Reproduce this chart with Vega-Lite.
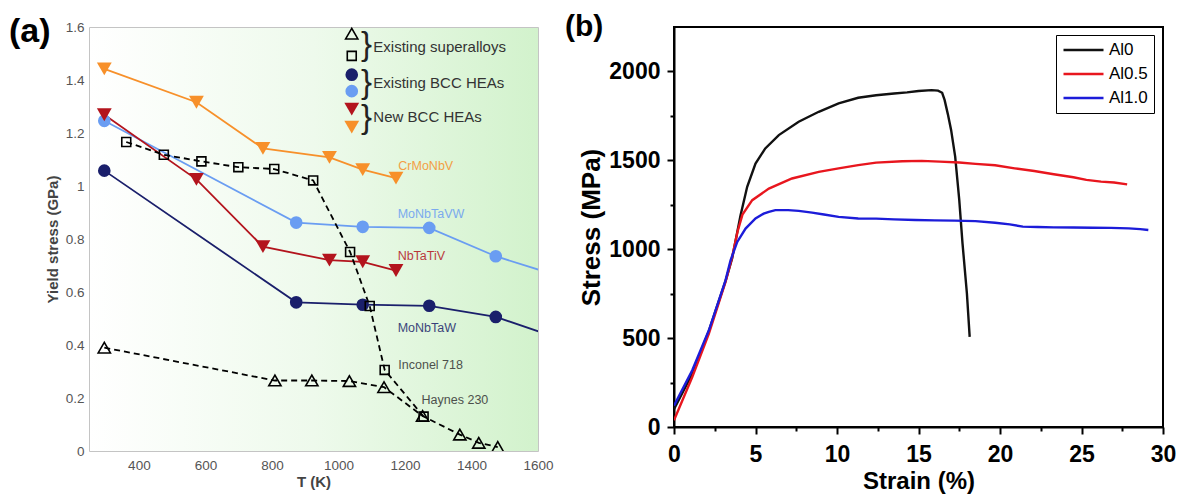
{
  "$schema": "https://vega.github.io/schema/vega-lite/v6.json",
  "padding": {"left": 8, "top": 11, "right": 4, "bottom": 4},
  "spacing": 10,
  "resolve": {"scale": {"color": "independent"}},
  "config": {"font": "Liberation Sans", "view": {"stroke": null}},
  "datasets": {
    "alloys": [
      {"series": "Haynes 230", "T": 296, "ys": 0.39},
      {"series": "Haynes 230", "T": 809, "ys": 0.266},
      {"series": "Haynes 230", "T": 920, "ys": 0.266},
      {"series": "Haynes 230", "T": 1033, "ys": 0.264},
      {"series": "Haynes 230", "T": 1137, "ys": 0.241},
      {"series": "Haynes 230", "T": 1253, "ys": 0.132},
      {"series": "Haynes 230", "T": 1365, "ys": 0.062},
      {"series": "Haynes 230", "T": 1422, "ys": 0.031},
      {"series": "Haynes 230", "T": 1479, "ys": 0.015},
      {"series": "Inconel 718", "T": 362, "ys": 1.166},
      {"series": "Inconel 718", "T": 475, "ys": 1.118},
      {"series": "Inconel 718", "T": 588, "ys": 1.093},
      {"series": "Inconel 718", "T": 699, "ys": 1.071},
      {"series": "Inconel 718", "T": 807, "ys": 1.064},
      {"series": "Inconel 718", "T": 924, "ys": 1.021},
      {"series": "Inconel 718", "T": 1035, "ys": 0.751},
      {"series": "Inconel 718", "T": 1094, "ys": 0.547},
      {"series": "Inconel 718", "T": 1139, "ys": 0.306},
      {"series": "Inconel 718", "T": 1256, "ys": 0.13},
      {"series": "MoNbTaW", "T": 296, "ys": 1.058},
      {"series": "MoNbTaW", "T": 873, "ys": 0.561},
      {"series": "MoNbTaW", "T": 1073, "ys": 0.552},
      {"series": "MoNbTaW", "T": 1273, "ys": 0.548},
      {"series": "MoNbTaW", "T": 1473, "ys": 0.506},
      {"series": "MoNbTaW", "T": 1673, "ys": 0.421},
      {"series": "MoNbTaW", "T": 1873, "ys": 0.405},
      {"series": "MoNbTaVW", "T": 296, "ys": 1.246},
      {"series": "MoNbTaVW", "T": 873, "ys": 0.862},
      {"series": "MoNbTaVW", "T": 1073, "ys": 0.846},
      {"series": "MoNbTaVW", "T": 1273, "ys": 0.842},
      {"series": "MoNbTaVW", "T": 1473, "ys": 0.735},
      {"series": "MoNbTaVW", "T": 1673, "ys": 0.656},
      {"series": "MoNbTaVW", "T": 1873, "ys": 0.477},
      {"series": "NbTaTiV", "T": 296, "ys": 1.269},
      {"series": "NbTaTiV", "T": 573, "ys": 1.025},
      {"series": "NbTaTiV", "T": 773, "ys": 0.771},
      {"series": "NbTaTiV", "T": 973, "ys": 0.72},
      {"series": "NbTaTiV", "T": 1073, "ys": 0.714},
      {"series": "NbTaTiV", "T": 1173, "ys": 0.681},
      {"series": "CrMoNbV", "T": 296, "ys": 1.442},
      {"series": "CrMoNbV", "T": 573, "ys": 1.316},
      {"series": "CrMoNbV", "T": 773, "ys": 1.142},
      {"series": "CrMoNbV", "T": 973, "ys": 1.108},
      {"series": "CrMoNbV", "T": 1073, "ys": 1.062},
      {"series": "CrMoNbV", "T": 1173, "ys": 1.03}
    ],
    "legendA": [
      {"series": "Haynes 230", "T": 1040, "ys": 1.575},
      {"series": "Inconel 718", "T": 1040, "ys": 1.491},
      {"series": "MoNbTaW", "T": 1040, "ys": 1.42},
      {"series": "MoNbTaVW", "T": 1040, "ys": 1.358},
      {"series": "NbTaTiV", "T": 1040, "ys": 1.29},
      {"series": "CrMoNbV", "T": 1040, "ys": 1.222}
    ],
    "bracesA": [
      {"T": 1068, "ys": 1.533},
      {"T": 1068, "ys": 1.389},
      {"T": 1068, "ys": 1.256}
    ],
    "legendTextA": [
      {"txt": "Existing superalloys", "T": 1105, "ys": 1.525},
      {"txt": "Existing BCC HEAs", "T": 1105, "ys": 1.39},
      {"txt": "New BCC HEAs", "T": 1105, "ys": 1.262}
    ],
    "labelsA": [
      {"label": "CrMoNbV", "series": "CrMoNbV", "T": 1180, "ys": 1.077},
      {"label": "MoNbTaVW", "series": "MoNbTaVW", "T": 1178, "ys": 0.895},
      {"label": "NbTaTiV", "series": "NbTaTiV", "T": 1178, "ys": 0.734},
      {"label": "MoNbTaW", "series": "MoNbTaW", "T": 1178, "ys": 0.464},
      {"label": "Inconel 718", "series": "Inconel 718", "T": 1180, "ys": 0.325},
      {"label": "Haynes 230", "series": "Haynes 230", "T": 1250, "ys": 0.194}
    ],
    "curves": [
      {"alloy": "Al0", "strain": 0, "stress": 100},
      {"alloy": "Al0", "strain": 1.12, "stress": 300},
      {"alloy": "Al0", "strain": 2.14, "stress": 540},
      {"alloy": "Al0", "strain": 3.16, "stress": 820},
      {"alloy": "Al0", "strain": 3.57, "stress": 950},
      {"alloy": "Al0", "strain": 3.9, "stress": 1105},
      {"alloy": "Al0", "strain": 4.08, "stress": 1190},
      {"alloy": "Al0", "strain": 4.49, "stress": 1351},
      {"alloy": "Al0", "strain": 5.0, "stress": 1482},
      {"alloy": "Al0", "strain": 5.6, "stress": 1567},
      {"alloy": "Al0", "strain": 6.43, "stress": 1642},
      {"alloy": "Al0", "strain": 7.65, "stress": 1717},
      {"alloy": "Al0", "strain": 8.88, "stress": 1773},
      {"alloy": "Al0", "strain": 10.1, "stress": 1820},
      {"alloy": "Al0", "strain": 11.3, "stress": 1852},
      {"alloy": "Al0", "strain": 12.4, "stress": 1866},
      {"alloy": "Al0", "strain": 13.5, "stress": 1876},
      {"alloy": "Al0", "strain": 14.3, "stress": 1882},
      {"alloy": "Al0", "strain": 15.0, "stress": 1890},
      {"alloy": "Al0", "strain": 15.8, "stress": 1895},
      {"alloy": "Al0", "strain": 16.2, "stress": 1892},
      {"alloy": "Al0", "strain": 16.45, "stress": 1880},
      {"alloy": "Al0", "strain": 16.6, "stress": 1840},
      {"alloy": "Al0", "strain": 16.8, "stress": 1760},
      {"alloy": "Al0", "strain": 17.0, "stress": 1671},
      {"alloy": "Al0", "strain": 17.25, "stress": 1521},
      {"alloy": "Al0", "strain": 17.5, "stress": 1277},
      {"alloy": "Al0", "strain": 17.7, "stress": 1033},
      {"alloy": "Al0", "strain": 17.97, "stress": 751},
      {"alloy": "Al0", "strain": 18.14, "stress": 507},
      {"alloy": "Al0.5", "strain": 0, "stress": 38},
      {"alloy": "Al0.5", "strain": 1.12, "stress": 281},
      {"alloy": "Al0.5", "strain": 2.14, "stress": 525},
      {"alloy": "Al0.5", "strain": 3.16, "stress": 816},
      {"alloy": "Al0.5", "strain": 3.57, "stress": 957},
      {"alloy": "Al0.5", "strain": 3.9, "stress": 1100},
      {"alloy": "Al0.5", "strain": 4.2, "stress": 1195},
      {"alloy": "Al0.5", "strain": 4.8, "stress": 1276},
      {"alloy": "Al0.5", "strain": 5.82, "stress": 1341},
      {"alloy": "Al0.5", "strain": 7.24, "stress": 1398},
      {"alloy": "Al0.5", "strain": 8.88, "stress": 1435},
      {"alloy": "Al0.5", "strain": 10.1, "stress": 1455},
      {"alloy": "Al0.5", "strain": 11.3, "stress": 1473},
      {"alloy": "Al0.5", "strain": 12.4, "stress": 1487},
      {"alloy": "Al0.5", "strain": 14.0, "stress": 1495},
      {"alloy": "Al0.5", "strain": 15.2, "stress": 1497},
      {"alloy": "Al0.5", "strain": 16.3, "stress": 1493},
      {"alloy": "Al0.5", "strain": 17.5, "stress": 1488},
      {"alloy": "Al0.5", "strain": 18.5, "stress": 1480},
      {"alloy": "Al0.5", "strain": 19.7, "stress": 1472},
      {"alloy": "Al0.5", "strain": 20.9, "stress": 1455},
      {"alloy": "Al0.5", "strain": 22.1, "stress": 1440},
      {"alloy": "Al0.5", "strain": 23.3, "stress": 1422},
      {"alloy": "Al0.5", "strain": 24.5, "stress": 1405},
      {"alloy": "Al0.5", "strain": 25.3, "stress": 1390},
      {"alloy": "Al0.5", "strain": 26.2, "stress": 1380},
      {"alloy": "Al0.5", "strain": 27.0, "stress": 1375},
      {"alloy": "Al0.5", "strain": 27.8, "stress": 1365},
      {"alloy": "Al1.0", "strain": 0, "stress": 120},
      {"alloy": "Al1.0", "strain": 1.12, "stress": 319},
      {"alloy": "Al1.0", "strain": 2.14, "stress": 544},
      {"alloy": "Al1.0", "strain": 3.16, "stress": 825},
      {"alloy": "Al1.0", "strain": 3.47, "stress": 938},
      {"alloy": "Al1.0", "strain": 3.88, "stress": 1041},
      {"alloy": "Al1.0", "strain": 4.39, "stress": 1116},
      {"alloy": "Al1.0", "strain": 5.0, "stress": 1173},
      {"alloy": "Al1.0", "strain": 5.5, "stress": 1200},
      {"alloy": "Al1.0", "strain": 5.82, "stress": 1210},
      {"alloy": "Al1.0", "strain": 6.22, "stress": 1220},
      {"alloy": "Al1.0", "strain": 7.0, "stress": 1220},
      {"alloy": "Al1.0", "strain": 7.65, "stress": 1216},
      {"alloy": "Al1.0", "strain": 8.47, "stress": 1206},
      {"alloy": "Al1.0", "strain": 9.2, "stress": 1195},
      {"alloy": "Al1.0", "strain": 10.1, "stress": 1182},
      {"alloy": "Al1.0", "strain": 11.3, "stress": 1173},
      {"alloy": "Al1.0", "strain": 12.4, "stress": 1172},
      {"alloy": "Al1.0", "strain": 13.5, "stress": 1168},
      {"alloy": "Al1.0", "strain": 14.8, "stress": 1164},
      {"alloy": "Al1.0", "strain": 16.0, "stress": 1162},
      {"alloy": "Al1.0", "strain": 17.2, "stress": 1161},
      {"alloy": "Al1.0", "strain": 18.5, "stress": 1158},
      {"alloy": "Al1.0", "strain": 19.7, "stress": 1149},
      {"alloy": "Al1.0", "strain": 20.6, "stress": 1140},
      {"alloy": "Al1.0", "strain": 21.4, "stress": 1127},
      {"alloy": "Al1.0", "strain": 22.3, "stress": 1125},
      {"alloy": "Al1.0", "strain": 23.3, "stress": 1123},
      {"alloy": "Al1.0", "strain": 24.5, "stress": 1122},
      {"alloy": "Al1.0", "strain": 25.7, "stress": 1121},
      {"alloy": "Al1.0", "strain": 26.8, "stress": 1120},
      {"alloy": "Al1.0", "strain": 27.9, "stress": 1117},
      {"alloy": "Al1.0", "strain": 28.6, "stress": 1113},
      {"alloy": "Al1.0", "strain": 29.1, "stress": 1108}
    ]
  },
  "hconcat": [
    {
      "width": 449,
      "height": 424,
      "view": {
        "stroke": "#c4c4c4", "strokeWidth": 1,
        "fill": {"gradient": "linear", "x1": 0, "y1": 0, "x2": 1, "y2": 0,
          "stops": [{"offset": 0, "color": "#ffffff"}, {"offset": 0.5, "color": "#eefaec"}, {"offset": 1, "color": "#d2f2cc"}]}
      },
      "title": {"text": "(a)", "anchor": "start", "frame": "group", "orient": "top", "fontSize": 34, "fontWeight": "bold", "offset": -29, "dx": -80, "color": "#000000", "font": "Liberation Sans"},
      "encoding": {
        "x": {
          "field": "T", "type": "quantitative",
          "scale": {"domain": [250, 1600], "nice": false, "zero": false},
          "axis": {
            "values": [400, 600, 800, 1000, 1200, 1400, 1600], "format": "d",
            "title": "T (K)", "grid": false, "ticks": false, "domain": false,
            "labelFlush": false, "labelColor": "#555555", "labelFontSize": 13.5, "labelPadding": 7,
            "titleFontSize": 15, "titleFontWeight": "bold", "titleColor": "#444444", "titlePadding": 3
          }
        },
        "y": {
          "field": "ys", "type": "quantitative",
          "scale": {"domain": [0, 1.6], "nice": false},
          "axis": {
            "values": [0, 0.2, 0.4, 0.6, 0.8, 1, 1.2, 1.4, 1.6], "format": "~g",
            "title": "Yield stress (GPa)", "grid": false, "ticks": false, "domain": false,
            "labelFlush": false, "labelColor": "#555555", "labelFontSize": 13.5, "labelPadding": 5,
            "titleFontSize": 15, "titleFontWeight": "bold", "titleColor": "#444444", "titlePadding": 5
          }
        }
      },
      "layer": [
        {
          "data": {"name": "alloys"},
          "transform": [{"filter": {"field": "series", "oneOf": ["MoNbTaW", "MoNbTaVW", "NbTaTiV", "CrMoNbV"]}}],
          "mark": {"type": "line", "strokeWidth": 1.8, "clip": true},
          "encoding": {
            "color": {"field": "series", "type": "nominal", "legend": null,
              "scale": {"domain": ["Haynes 230", "Inconel 718", "MoNbTaW", "MoNbTaVW", "NbTaTiV", "CrMoNbV"],
                "range": ["#333333", "#333333", "#1a1f6b", "#6a9df2", "#b3141d", "#f7902a"]}}
          }
        },
        {
          "data": {"name": "alloys"},
          "transform": [{"filter": {"field": "series", "oneOf": ["Haynes 230", "Inconel 718"]}}],
          "mark": {"type": "line", "strokeWidth": 1.8, "strokeDash": [6, 4], "color": "#000000", "clip": true},
          "encoding": {"detail": {"field": "series", "type": "nominal"}}
        },
        {
          "data": {"name": "alloys"},
          "transform": [{"filter": {"field": "series", "oneOf": ["MoNbTaW", "MoNbTaVW"]}}],
          "mark": {"type": "point", "shape": "circle", "filled": true, "opacity": 1, "size": 160, "clip": true},
          "encoding": {"color": {"field": "series", "type": "nominal", "legend": null}}
        },
        {
          "data": {"name": "alloys"},
          "transform": [{"filter": {"field": "series", "oneOf": ["NbTaTiV", "CrMoNbV"]}}],
          "mark": {"type": "point", "shape": "triangle-down", "filled": true, "opacity": 1, "size": 220, "clip": true},
          "encoding": {"color": {"field": "series", "type": "nominal", "legend": null}}
        },
        {
          "data": {"name": "alloys"},
          "transform": [{"filter": {"field": "series", "equal": "Haynes 230"}}],
          "mark": {"type": "point", "shape": "triangle-up", "filled": false, "opacity": 1, "size": 150, "strokeWidth": 1.6, "color": "#000000", "clip": true}
        },
        {
          "data": {"name": "alloys"},
          "transform": [{"filter": {"field": "series", "equal": "Inconel 718"}}],
          "mark": {"type": "point", "shape": "square", "filled": false, "opacity": 1, "size": 80, "strokeWidth": 1.6, "color": "#000000", "clip": true}
        },
        {
          "data": {"name": "labelsA"},
          "mark": {"type": "text", "align": "left", "baseline": "middle", "fontSize": 12.5, "opacity": 0.85},
          "encoding": {
            "text": {"field": "label"},
            "color": {"field": "series", "type": "nominal", "legend": null}
          }
        },
        {
          "data": {"name": "legendA"},
          "transform": [{"filter": {"field": "series", "oneOf": ["MoNbTaW", "MoNbTaVW"]}}],
          "mark": {"type": "point", "shape": "circle", "filled": true, "opacity": 1, "size": 160},
          "encoding": {"color": {"field": "series", "type": "nominal", "legend": null}}
        },
        {
          "data": {"name": "legendA"},
          "transform": [{"filter": {"field": "series", "oneOf": ["NbTaTiV", "CrMoNbV"]}}],
          "mark": {"type": "point", "shape": "triangle-down", "filled": true, "opacity": 1, "size": 220},
          "encoding": {"color": {"field": "series", "type": "nominal", "legend": null}}
        },
        {
          "data": {"name": "legendA"},
          "transform": [{"filter": {"field": "series", "equal": "Haynes 230"}}],
          "mark": {"type": "point", "shape": "triangle-up", "filled": false, "opacity": 1, "size": 150, "strokeWidth": 1.6, "color": "#000000"}
        },
        {
          "data": {"name": "legendA"},
          "transform": [{"filter": {"field": "series", "equal": "Inconel 718"}}],
          "mark": {"type": "point", "shape": "square", "filled": false, "opacity": 1, "size": 80, "strokeWidth": 1.6, "color": "#000000"}
        },
        {
          "data": {"name": "bracesA"},
          "mark": {"type": "text", "text": "}", "fontSize": 33, "align": "left", "baseline": "middle", "color": "#222222"}
        },
        {
          "data": {"name": "legendTextA"},
          "mark": {"type": "text", "fontSize": 15, "align": "left", "baseline": "middle", "color": "#333333"},
          "encoding": {"text": {"field": "txt"}}
        }
      ]
    },
    {
      "width": 489,
      "height": 400,
      "view": {"stroke": "#000000", "strokeWidth": 2},
      "title": {"text": "(b)", "anchor": "start", "frame": "group", "orient": "top", "fontSize": 30, "fontWeight": "bold", "offset": -15, "dx": -109, "color": "#000000", "font": "Liberation Sans"},
      "data": {"name": "curves"},
      "resolve": {"axis": {"x": "independent", "y": "independent"}},
      "layer": [
        {
          "mark": {"type": "line", "strokeWidth": 2.4, "clip": true},
          "encoding": {
            "x": {
              "field": "strain", "type": "quantitative",
              "scale": {"domain": [0, 30], "nice": false, "zero": false},
              "axis": {
                "orient": "bottom", "values": [0, 5, 10, 15, 20, 25, 30], "format": "d",
                "title": "Strain (%)", "grid": false, "labelFlush": false,
                "domainColor": "#000000", "domainWidth": 2,
                "tickColor": "#000000", "tickWidth": 2, "tickSize": 7,
                "labelColor": "#000000", "labelFontSize": 23, "labelFontWeight": "bold", "labelPadding": 9,
                "titleFontSize": 24, "titleFontWeight": "bold", "titleColor": "#000000", "titlePadding": 3
              }
            },
            "y": {
              "field": "stress", "type": "quantitative",
              "scale": {"domain": [0, 2250], "nice": false},
              "axis": {
                "orient": "left", "values": [0, 500, 1000, 1500, 2000], "format": "d",
                "title": "Stress (MPa)", "grid": false, "labelFlush": false,
                "domainColor": "#000000", "domainWidth": 2,
                "tickColor": "#000000", "tickWidth": 2, "tickSize": 7,
                "labelColor": "#000000", "labelFontSize": 23, "labelFontWeight": "bold", "labelPadding": 7,
                "titleFontSize": 26, "titleFontWeight": "bold", "titleColor": "#000000", "titlePadding": 4
              }
            },
            "color": {
              "field": "alloy", "type": "nominal",
              "scale": {"domain": ["Al0", "Al0.5", "Al1.0"], "range": ["#111111", "#e8161e", "#1c1cd9"]},
              "legend": {
                "orient": "none", "legendX": 382, "legendY": 8, "title": null,
                "symbolType": "stroke", "symbolSize": 1600, "symbolStrokeWidth": 2.5,
                "clipHeight": 18, "rowPadding": 6, "labelFontSize": 17, "labelColor": "#000000",
                "labelOffset": 4, "padding": 6, "strokeColor": "#000000", "fillColor": "#ffffff"
              }
            }
          }
        },
        {
          "mark": {"type": "line", "opacity": 0},
          "encoding": {
            "x": {
              "field": "strain", "type": "quantitative",
              "axis": {"orient": "bottom", "values": [2.5, 7.5, 12.5, 17.5, 22.5, 27.5], "labels": false, "domain": false,
                "grid": false, "title": null, "tickColor": "#000000", "tickWidth": 2, "tickSize": 4}
            },
            "y": {
              "field": "stress", "type": "quantitative",
              "axis": {"orient": "left", "values": [250, 750, 1250, 1750], "labels": false, "domain": false,
                "grid": false, "title": null, "tickColor": "#000000", "tickWidth": 2, "tickSize": 4}
            },
            "detail": {"field": "alloy", "type": "nominal"}
          }
        }
      ]
    }
  ]
}
